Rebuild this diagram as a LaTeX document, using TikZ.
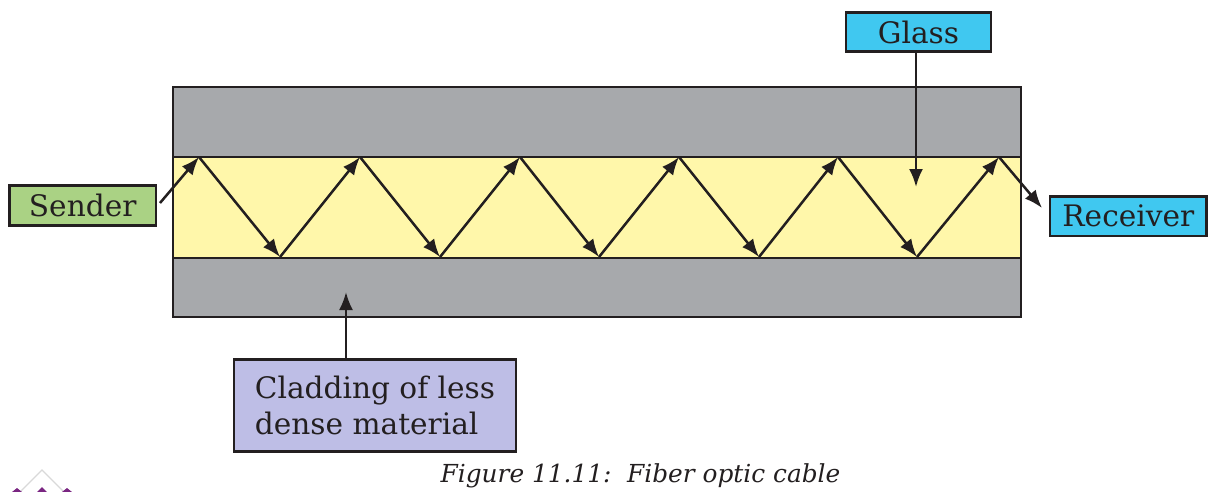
\documentclass[tikz,border=0pt]{standalone}
\usepackage{fontspec}
\setmainfont{DejaVu Serif}
\usetikzlibrary{arrows.meta}
\definecolor{cladgray}{RGB}{167,169,172}
\definecolor{coreyellow}{RGB}{255,247,170}
\definecolor{sendgreen}{RGB}{170,210,132}
\definecolor{labelcyan}{RGB}{64,200,240}
\definecolor{lavender}{RGB}{190,190,230}
\definecolor{inkdark}{RGB}{35,31,32}
\definecolor{logopurple}{RGB}{122,38,130}
\begin{document}
\begin{tikzpicture}[x=0.5pt,y=-0.5pt,
  lbl/.style={draw=inkdark, line width=1.4pt, font=\fontsize{14.8}{18.3}\selectfont, inner sep=0pt, text=inkdark},
  ray/.style={draw=inkdark, line width=1.25pt, -{Latex[length=9pt,width=7pt]}},
  layer/.style={draw=inkdark, line width=1.2pt}
]
\useasboundingbox (0,0) rectangle (1209,492);
\fill[white] (0,0) rectangle (1209,492);

% cable layers
\draw[layer, fill=cladgray] (173,87) rectangle (1021,317);
\draw[layer, fill=coreyellow] (173,157) rectangle (1021,258);

% labels
\node[lbl, fill=sendgreen, minimum width=73.3pt, minimum height=20pt] (sender) at (82.7,205.7) {Sender};
\node[lbl, fill=labelcyan, minimum width=72.5pt, minimum height=19.8pt] (glass) at (918.5,32) {Glass};
\node[lbl, fill=labelcyan, minimum width=78.3pt, minimum height=19.7pt] (receiver) at (1128.3,216.3) {Receiver};
\node[lbl, fill=lavender, minimum width=141pt, minimum height=46.2pt, align=left] (clad) at (375,405.5) {Cladding of less\\dense material};

% bounce points
\coordinate (start) at (160,203);
\coordinate (t1) at (199,157);
\coordinate (b1) at (280,257);
\coordinate (t2) at (360,157);
\coordinate (b2) at (440,257);
\coordinate (t3) at (520,157);
\coordinate (b3) at (599,257);
\coordinate (t4) at (679,157);
\coordinate (b4) at (759,257);
\coordinate (t5) at (838,157);
\coordinate (b5) at (917,257);
\coordinate (t6) at (999,157);
\coordinate (finish) at (1042,208);

\draw[ray] (start) -- (t1);
\draw[ray] (t1) -- (b1);
\draw[ray] (b1) -- (t2);
\draw[ray] (t2) -- (b2);
\draw[ray] (b2) -- (t3);
\draw[ray] (t3) -- (b3);
\draw[ray] (b3) -- (t4);
\draw[ray] (t4) -- (b4);
\draw[ray] (b4) -- (t5);
\draw[ray] (t5) -- (b5);
\draw[ray] (b5) -- (t6);
\draw[ray] (t6) -- (finish);

% pointer arrows
\coordinate (glassTip) at (916,187);
\draw[ray] (glassTip |- glass.south) -- (glassTip);
\coordinate (cladTip) at (346,292);
\draw[ray] (cladTip |- clad.north) -- (cladTip);

% caption
\node[font=\fontsize{12.4}{15}\selectfont\itshape, text=inkdark, anchor=base, inner sep=0pt] (caption) at (640.5,482) {Figure 11.11:\ \ Fiber optic cable};

% logo fragment
\draw[black!15, line width=0.6pt] (12,500) -- (42,470) -- (72,500);
\fill[logopurple] (29,500) -- (42,487) -- (55,500) -- cycle;
\fill[logopurple] (12,492) -- (17,488) -- (22,492) -- cycle;
\fill[logopurple] (62,492) -- (67,488) -- (72,492) -- cycle;
\end{tikzpicture}
\end{document}
